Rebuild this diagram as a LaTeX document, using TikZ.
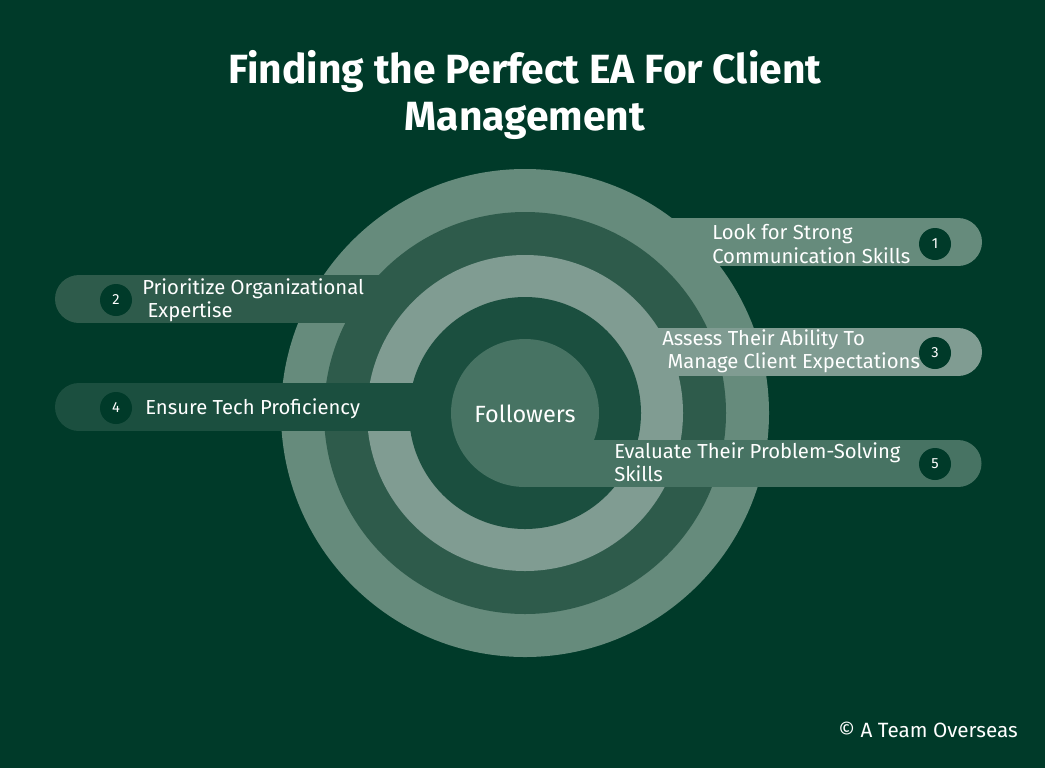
\documentclass[tikz,border=0pt]{standalone}
\usepackage{fontspec}
\setmainfont{Fira Sans}
\usepackage{tikz}
\definecolor{bgdark}{HTML}{003A29}
\definecolor{ringa}{HTML}{668B7C}
\definecolor{ringb}{HTML}{2E5B4B}
\definecolor{ringc}{HTML}{809C92}
\definecolor{ringd}{HTML}{1B4F3F}
\definecolor{ringe}{HTML}{477363}
\tikzstyle{txt} = [text=white,inner sep=0,align=left,anchor=west,font=\fontsize{15.2}{17.4}\selectfont]
\tikzstyle{num} = [circle,fill=bgdark,text=white,minimum size=24pt,inner sep=0,font=\fontsize{11}{13}\selectfont]

\begin{document}
\begin{tikzpicture}[x=0.75pt,y=-0.75pt]

    \fill[bgdark] (0,0) rectangle (1045,768);
    \useasboundingbox (0,0) rectangle (1045,768);

    % rings with their bands
    \fill[ringa] (525,413) circle (244);
    \fill[ringa] (525,218) rectangle (958,266);
    \fill[ringa] (958,242) circle (24);
    \fill[ringb] (525,413) circle (201);
    \fill[ringb] (79,275) rectangle (525,323);
    \fill[ringb] (79,299) circle (24);
    \fill[ringc] (525,413) circle (158);
    \fill[ringc] (525,328) rectangle (958,376);
    \fill[ringc] (958,352) circle (24);
    \fill[ringd] (525,413) circle (116);
    \fill[ringd] (79,383) rectangle (525,431);
    \fill[ringd] (79,407) circle (24);
    \fill[ringe] (525,413) circle (74);
    \fill[ringe] (525,440) rectangle (958,487);
    \fill[ringe] (958,463.5) circle (23.5);

    \node[text=white,align=center,font=\fontsize{30.6}{35}\bfseries\selectfont] (title) at (525,95)
        {Finding the Perfect EA For Client\\Management};

    \node[text=white,font=\fontsize{17.6}{20}\selectfont] (core) at (525,414) {Followers};

    \node[txt] (t1) at (712,244) {Look for Strong\\Communication Skills};
    \node[txt] (t2) at (142,300) {Prioritize Organizational\\\hspace{4pt}Expertise};
    \node[txt] (t3) at (662,351) {Assess Their Ability To\\\hspace{4pt}Manage Client Expectations};
    \node[txt] (t4) at (145,409) {Ensure Tech Proficiency};
    \node[txt] (t5) at (614,462) {Evaluate Their Problem-Solving\\Skills};

    \node[num] (n1) at (935,244) {1};
    \node[num] (n2) at (116,300) {2};
    \node[num] (n3) at (935,353) {3};
    \node[num] (n4) at (116,408) {4};
    \node[num] (n5) at (935,464) {5};

    \node[text=white,anchor=east,inner sep=0,font=\fontsize{15.5}{18}\selectfont] (credit) at (1018,730)
        {© A Team Overseas};

\end{tikzpicture}
\end{document}
